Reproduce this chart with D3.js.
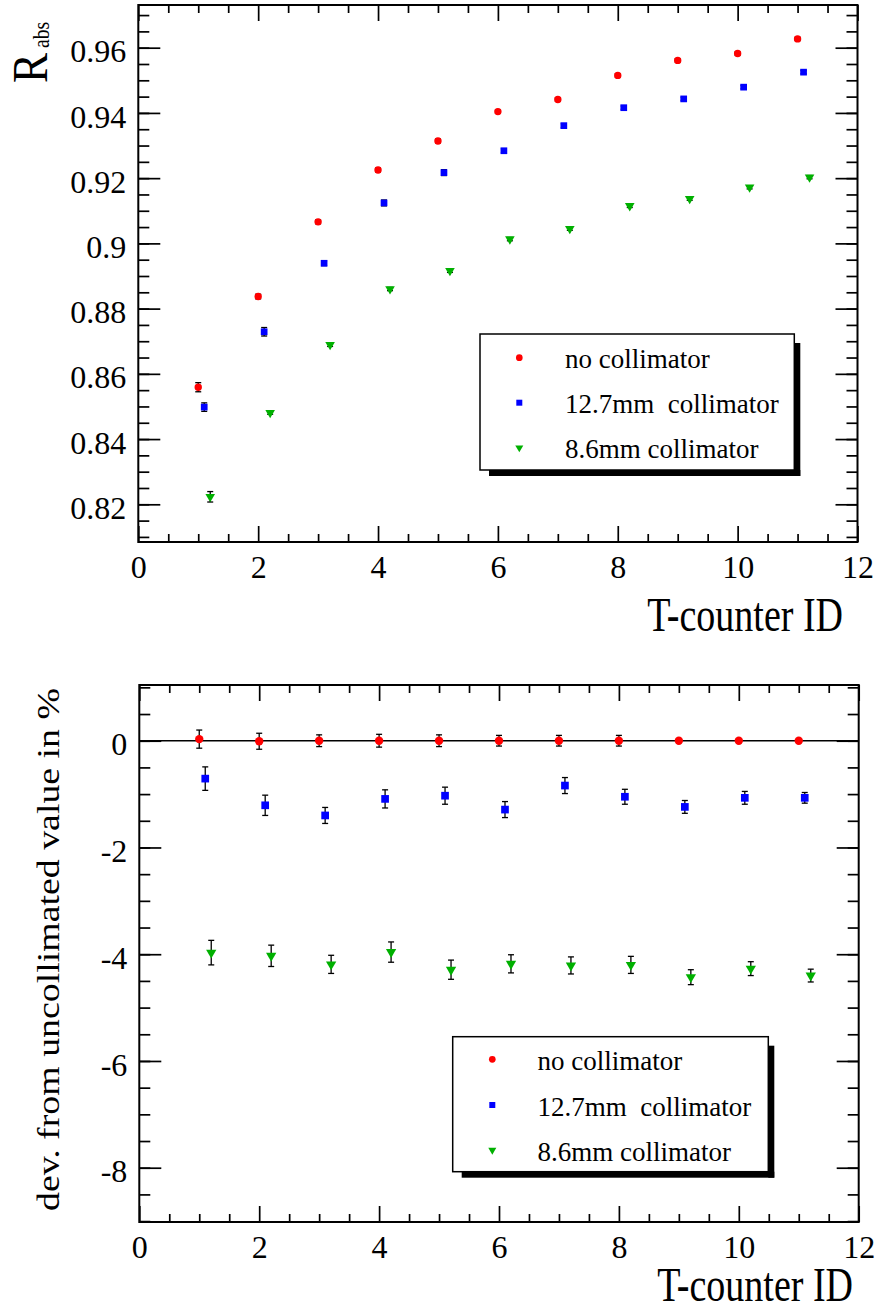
<!DOCTYPE html>
<html>
<head>
<meta charset="utf-8">
<script src="https://cdn.jsdelivr.net/npm/d3@7/dist/d3.min.js"></script>
<style>
  body { margin: 0; background: #fff; }
  .axis line { stroke: #000; stroke-width: 1.7; }
  .axis .domain { display: none; }
  .frame { fill: none; stroke: #000; stroke-width: 2; }
</style>
</head>
<body>
<svg id="chart" width="878" height="1312"></svg>
<script>
var SERIF = "'Liberation Serif', 'Times New Roman', Times, serif"

// x positions (T-counter ID, each series nudged right so markers don't overlap)
var idNo  = [1, 2, 3, 4, 5, 6, 7, 8, 9, 10, 11]
var id127 = [1.1, 2.1, 3.1, 4.1, 5.1, 6.1, 7.1, 8.1, 9.1, 10.1, 11.1]
var id86  = [1.2, 2.2, 3.2, 4.2, 5.2, 6.2, 7.2, 8.2, 9.2, 10.2, 11.2]

// top panel: R_abs
var rNo     = [0.8559, 0.8837, 0.9066, 0.9225, 0.9314, 0.9404, 0.9441, 0.9515, 0.9561, 0.9582, 0.9627]
var rNoErr  = [0.0014, 0.0007, 0.0006, 0.0006, 0.0006, 0.0005, 0.0005, 0.0005, 0.0005, 0.0005, 0.0005]
var r127    = [0.8498, 0.8729, 0.8939, 0.9124, 0.9217, 0.9284, 0.9361, 0.9416, 0.9443, 0.9479, 0.9525]
var r127Err = [0.0013, 0.0013, 0.0007, 0.0009, 0.0009, 0.0006, 0.0006, 0.0005, 0.0005, 0.0005, 0.0005]
var r86     = [0.8223, 0.8481, 0.8689, 0.8860, 0.8916, 0.9013, 0.9045, 0.9115, 0.9137, 0.9172, 0.9203]
var r86Err  = [0.0016, 0.0005, 0.0005, 0.0005, 0.0005, 0.0005, 0.0005, 0.0005, 0.0005, 0.0005, 0.0005]

// bottom panel: deviation from uncollimated value in %
var dNo     = [0.03, -0.01, 0, 0, 0, 0, 0, 0, 0, 0, 0]
var dNoErr  = [0.17, 0.15, 0.11, 0.12, 0.11, 0.10, 0.10, 0.10, 0.02, 0.02, 0.02]
var d127    = [-0.71, -1.21, -1.40, -1.09, -1.03, -1.29, -0.84, -1.05, -1.24, -1.07, -1.07]
var d127Err = [0.22, 0.19, 0.15, 0.17, 0.16, 0.15, 0.15, 0.14, 0.12, 0.12, 0.10]
var d86     = [-3.97, -4.03, -4.19, -3.96, -4.29, -4.18, -4.21, -4.20, -4.43, -4.27, -4.40]
var d86Err  = [0.23, 0.20, 0.17, 0.19, 0.18, 0.17, 0.16, 0.16, 0.14, 0.13, 0.12]

var legendNames = ["no collimator", "12.7mm\u00a0 collimator", "8.6mm collimator"]
var colors = ["#ff0000", "#0000ff", "#00b000"]

var xMajor = [0, 2, 4, 6, 8, 10, 12]
var topYMajor = [0.82, 0.84, 0.86, 0.88, 0.9, 0.92, 0.94, 0.96]
var botYMajor = [-8, -6, -4, -2, 0]

var svg = d3.select("#chart")

function shapeOf(i) {
  return [d3.symbolCircle, d3.symbolSquare, d3.symbolTriangle][i]
}

function drawPanel(p) {
  var g = svg.append("g")
  var x = d3.scaleLinear().domain([0, 12]).range([p.left, p.right])
  var y = d3.scaleLinear().domain(p.yDomain).range([p.bottom, p.top])

  var xMinor = d3.range(0, 25).map(function(i){ return i * 0.5 }).filter(function(v){ return v % 2 != 0 })

  // bottom axis, labels + ticks pointing inward
  g.append("g").attr("class", "axis xlab").attr("transform", "translate(0," + p.bottom + ")")
    .call(d3.axisBottom(x).tickValues(xMajor).tickSizeInner(-16).tickSizeOuter(0).tickPadding(13)
      .tickFormat(d3.format("d")))
  g.append("g").attr("class", "axis").attr("transform", "translate(0," + p.bottom + ")")
    .call(d3.axisBottom(x).tickValues(xMinor).tickSizeInner(-8).tickSizeOuter(0).tickFormat(""))
  // top axis, ticks only
  g.append("g").attr("class", "axis").attr("transform", "translate(0," + p.top + ")")
    .call(d3.axisTop(x).tickValues(xMajor).tickSizeInner(-16).tickSizeOuter(0).tickFormat(""))
  g.append("g").attr("class", "axis").attr("transform", "translate(0," + p.top + ")")
    .call(d3.axisTop(x).tickValues(xMinor).tickSizeInner(-8).tickSizeOuter(0).tickFormat(""))

  // left + right
  g.append("g").attr("class", "axis ylab").attr("transform", "translate(" + p.left + ",0)")
    .call(d3.axisLeft(y).tickValues(p.yMajor).tickSizeInner(-22).tickSizeOuter(0).tickPadding(12)
      .tickFormat(p.yFormat))
  g.append("g").attr("class", "axis").attr("transform", "translate(" + p.left + ",0)")
    .call(d3.axisLeft(y).tickValues(p.yMinor).tickSizeInner(-11).tickSizeOuter(0).tickFormat(""))
  g.append("g").attr("class", "axis").attr("transform", "translate(" + p.right + ",0)")
    .call(d3.axisRight(y).tickValues(p.yMajor).tickSizeInner(-22).tickSizeOuter(0).tickFormat(""))
  g.append("g").attr("class", "axis").attr("transform", "translate(" + p.right + ",0)")
    .call(d3.axisRight(y).tickValues(p.yMinor).tickSizeInner(-11).tickSizeOuter(0).tickFormat(""))

  g.selectAll(".axis").attr("font-family", null).attr("font-size", null)
  g.selectAll(".axis text").style("font-family", SERIF).style("font-size", "32px")
  g.selectAll(".ylab text").attr("dy", "0.44em")

  g.append("rect").attr("class", "frame")
    .attr("x", p.left).attr("y", p.top)
    .attr("width", p.right - p.left).attr("height", p.bottom - p.top)

  if (p.zeroLine) {
    g.append("line").attr("x1", x(0)).attr("x2", x(12)).attr("y1", y(0)).attr("y2", y(0))
      .attr("stroke", "#000").attr("stroke-width", 1.5)
  }

  // data: error bars first, markers on top
  p.series.forEach(function(s, i) {
    var pts = s.xs.map(function(xv, k){ return {x: xv, v: s.vs[k], e: s.es[k]} })
    var eb = g.append("g").attr("stroke", "#000").attr("stroke-width", 1.3)
    pts.forEach(function(d) {
      var cx = x(d.x), y1 = y(d.v - d.e), y2 = y(d.v + d.e)
      eb.append("line").attr("x1", cx).attr("x2", cx).attr("y1", y1).attr("y2", y2)
      eb.append("line").attr("x1", cx - 3).attr("x2", cx + 3).attr("y1", y1).attr("y2", y1)
      eb.append("line").attr("x1", cx - 3).attr("x2", cx + 3).attr("y1", y2).attr("y2", y2)
    })
    g.append("g").selectAll("path").data(pts).enter().append("path")
      .attr("d", d3.symbol().type(shapeOf(i)).size(p.markerSize[i]))
      .attr("transform", function(d){
        return "translate(" + x(d.x) + "," + y(d.v) + ")" + (i == 2 ? " rotate(180)" : "")
      })
      .attr("fill", colors[i])
  })

  // legend with drop shadow
  var L = p.legend
  g.append("rect").attr("x", L.x1).attr("y", L.y0 + 9).attr("width", 6).attr("height", L.y1 - L.y0 - 3).attr("fill", "#000")
  g.append("rect").attr("x", L.x0 + 9).attr("y", L.y1).attr("width", L.x1 - L.x0 - 3).attr("height", 6).attr("fill", "#000")
  g.append("rect").attr("x", L.x0).attr("y", L.y0).attr("width", L.x1 - L.x0).attr("height", L.y1 - L.y0)
    .attr("fill", "#fff").attr("stroke", "#000").attr("stroke-width", 1.5)
  legendNames.forEach(function(name, i) {
    var ry = L.rows[i]
    g.append("path").attr("d", d3.symbol().type(shapeOf(i)).size([35, 36, 28][i])())
      .attr("transform", "translate(" + L.mx + "," + ry + ")" + (i == 2 ? " rotate(180)" : ""))
      .attr("fill", colors[i])
    g.append("text").attr("x", L.tx).attr("y", ry + 10.6)
      .style("font-family", SERIF).style("font-size", "27px").text(name)
  })

  // x title
  g.append("text").attr("text-anchor", "end")
    .attr("transform", "translate(" + p.xTitle[0] + "," + p.xTitle[1] + ") scale(1,1.25)")
    .style("font-family", SERIF).style("font-size", "38px").text("T-counter ID")

  return g
}

drawPanel({
  left: 138.3, right: 857.5, top: 5, bottom: 542,
  yDomain: [0.80844, 0.97309],
  yMajor: topYMajor,
  yMinor: d3.range(162, 195).map(function(i){ return i * 0.005 }),
  yFormat: function(d){ return String(+d.toFixed(2)) },
  markerSize: [43, 45, 40],
  series: [
    {xs: idNo, vs: rNo, es: rNoErr},
    {xs: id127, vs: r127, es: r127Err},
    {xs: id86, vs: r86, es: r86Err}
  ],
  legend: {x0: 480, x1: 794.3, y0: 334, y1: 470, mx: 519.3, tx: 565, rows: [357.7, 402.7, 447.7]},
  xTitle: [843, 631]
})

drawPanel({
  left: 139.3, right: 858.7, top: 685, bottom: 1222,
  yDomain: [-9.017, 1.044],
  yMajor: botYMajor,
  yMinor: d3.range(-18, 3).map(function(i){ return i * 0.5 }),
  yFormat: function(d){ return String(d) },
  markerSize: [55, 59, 46],
  zeroLine: true,
  series: [
    {xs: idNo, vs: dNo, es: dNoErr},
    {xs: id127, vs: d127, es: d127Err},
    {xs: id86, vs: d86, es: d86Err}
  ],
  legend: {x0: 452.7, x1: 768.3, y0: 1036.7, y1: 1171.7, mx: 492.3, tx: 537.5, rows: [1059.3, 1105, 1150]},
  xTitle: [853, 1301]
})

// y titles
svg.append("text").attr("transform", "translate(47,83) rotate(-90)")
  .style("font-family", SERIF).style("font-size", "50px")
  .attr("textLength", 30).attr("lengthAdjust", "spacingAndGlyphs")
  .text("R")
svg.append("text").attr("transform", "translate(49,48) rotate(-90)")
  .style("font-family", SERIF).style("font-size", "24px")
  .attr("textLength", 26).attr("lengthAdjust", "spacingAndGlyphs")
  .text("abs")

svg.append("text").attr("transform", "translate(59,949.5) rotate(-90)")
  .attr("text-anchor", "middle")
  .style("font-family", SERIF).style("font-size", "31px")
  .attr("textLength", 523).attr("lengthAdjust", "spacingAndGlyphs")
  .text("dev. from uncollimated value in %")
</script>
</body>
</html>
